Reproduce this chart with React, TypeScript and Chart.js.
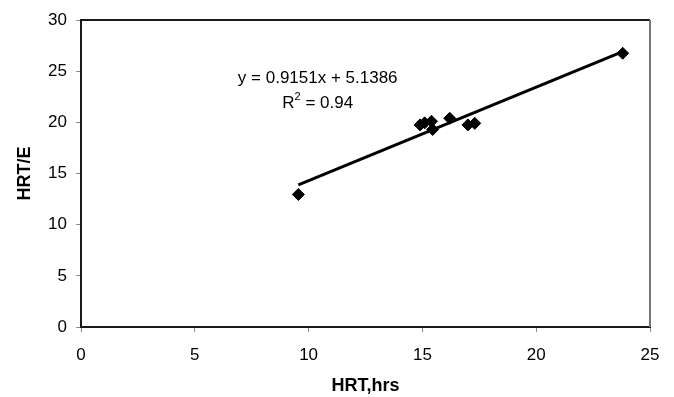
import React, { useEffect, useRef } from "react";
import { Chart, registerables } from "chart.js";

Chart.register(...registerables);

const hrtHours: number[] = [9.55, 14.9, 15.1, 15.4, 15.45, 16.2, 17.0, 17.3, 23.8];
const hrtE: number[] = [12.95, 19.75, 19.95, 20.1, 19.3, 20.4, 19.75, 19.9, 26.75];
const slope = 0.9151;
const intercept = 5.1386;
const rSquared = "0.94";
const xTicks: number[] = [0, 5, 10, 15, 20, 25];
const yTicks: number[] = [0, 5, 10, 15, 20, 25, 30];
const eqAnchor = { x: 10.4, y: 24.3 };

const FONT = "'Liberation Sans', Arial, sans-serif";

export default function App() {
  const ref = useRef<HTMLCanvasElement | null>(null);
  useEffect(() => {
    if (!ref.current) return;
    const xMin = Math.min(...hrtHours);
    const xMax = Math.max(...hrtHours);
    const trend = [
      { x: xMin, y: slope * xMin + intercept },
      { x: xMax, y: slope * xMax + intercept },
    ];
    const framePlugin = {
      id: "frame",
      afterDraw(chart: any) {
        const { ctx, chartArea: a, scales } = chart;
        ctx.save();
        ctx.lineWidth = 2;
        ctx.strokeStyle = "#1a1a1a";
        ctx.beginPath();
        ctx.moveTo(a.left, a.bottom);
        ctx.lineTo(a.left, a.top);
        ctx.lineTo(a.right, a.top);
        ctx.stroke();
        ctx.strokeStyle = "#777";
        ctx.beginPath();
        ctx.moveTo(a.right, a.top);
        ctx.lineTo(a.right, a.bottom);
        ctx.stroke();
        // equation text
        const px = scales.x.getPixelForValue(eqAnchor.x);
        const py = scales.y.getPixelForValue(eqAnchor.y);
        ctx.fillStyle = "#000";
        ctx.font = `17px ${FONT}`;
        ctx.textAlign = "center";
        ctx.textBaseline = "middle";
        ctx.fillText(`y = ${slope}x + ${intercept}`, px, py);
        const part1 = "R";
        const part2 = ` = ${rSquared}`;
        const w1 = ctx.measureText(part1).width;
        const w3 = ctx.measureText(part2).width;
        ctx.font = `11px ${FONT}`;
        const w2 = ctx.measureText("2").width;
        const total = w1 + w2 + w3;
        let sx = px - total / 2;
        const ry = py + 25;
        ctx.textAlign = "left";
        ctx.font = `17px ${FONT}`;
        ctx.fillText(part1, sx, ry);
        sx += w1;
        ctx.font = `11px ${FONT}`;
        ctx.fillText("2", sx, ry - 6);
        sx += w2;
        ctx.font = `17px ${FONT}`;
        ctx.fillText(part2, sx, ry);
        ctx.restore();
      },
    };
    const chart = new Chart(ref.current, {
      type: "scatter",
      data: {
        datasets: [
          {
            type: "line",
            data: trend,
            borderColor: "#000",
            borderWidth: 3,
            pointRadius: 0,
            fill: false,
          } as any,
          {
            data: hrtHours.map((x, i) => ({ x, y: hrtE[i] })),
            pointStyle: "rectRot",
            pointRadius: 6,
            backgroundColor: "#000",
            borderColor: "#000",
            borderWidth: 1,
          },
        ],
      },
      options: {
        animation: false,
        responsive: false,
        maintainAspectRatio: false,
        layout: { padding: { top: 20, right: 24, left: 0, bottom: 0 } },
        plugins: { legend: { display: false }, tooltip: { enabled: false } },
        scales: {
          x: {
            type: "linear",
            min: 0,
            max: 25,
            afterBuildTicks: (s: any) => {
              s.ticks = xTicks.map((v) => ({ value: v }));
            },
            afterFit: (s: any) => {
              s.height = 70;
            },
            ticks: { color: "#000", font: { size: 17, family: FONT }, padding: 13, maxRotation: 0 },
            grid: { display: true, drawOnChartArea: false, drawTicks: true, tickLength: 5, color: "#888", lineWidth: 1 },
            border: { display: true, color: "#1a1a1a", width: 2 },
            title: {
              display: true,
              text: "HRT,hrs",
              color: "#000",
              font: { size: 18, weight: "bold", family: FONT },
              padding: { top: 8, bottom: 0 },
            },
          },
          y: {
            type: "linear",
            min: 0,
            max: 30,
            afterBuildTicks: (s: any) => {
              s.ticks = yTicks.map((v) => ({ value: v }));
            },
            afterFit: (s: any) => {
              s.width = 81;
            },
            ticks: { color: "#000", font: { size: 17, family: FONT }, padding: 9 },
            grid: { display: true, drawOnChartArea: false, drawTicks: true, tickLength: 5, color: "#888", lineWidth: 1 },
            border: { display: true, color: "#1a1a1a", width: 2 },
            title: {
              display: true,
              text: "HRT/E",
              color: "#000",
              font: { size: 18, weight: "bold", family: FONT },
              padding: { top: 14, bottom: 4 },
            },
          },
        },
      },
      plugins: [framePlugin],
    });
    return () => chart.destroy();
  }, []);
  return (
    <div style={{ position: "absolute", left: 0, top: 0, width: 674, height: 397, background: "#fff" }}>
      <canvas ref={ref} width={674} height={397} style={{ width: 674, height: 397 }} />
    </div>
  );
}
